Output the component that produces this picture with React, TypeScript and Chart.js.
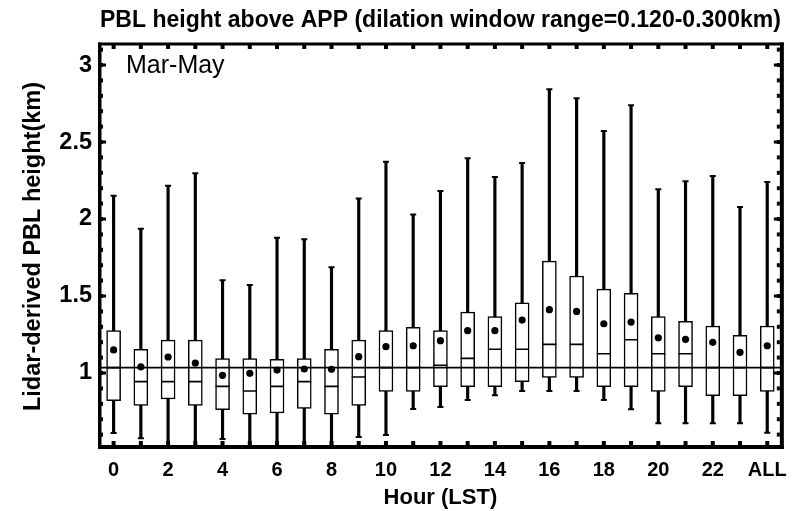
import React, { useEffect, useRef } from 'react';
import { Chart, registerables } from 'chart.js';

Chart.register(...registerables);

const hours: string[] = ['0','1','2','3','4','5','6','7','8','9','10','11','12','13','14','15','16','17','18','19','20','21','22','23','ALL'];
const whiskerLow: number[] = [0.61,0.576,0.45,0.45,0.571,0.45,0.45,0.45,0.45,0.584,0.597,0.766,0.779,0.825,0.855,0.883,0.883,0.883,0.825,0.764,0.673,0.673,0.673,0.673,0.612];
const q1: number[] = [0.82,0.79,0.831,0.79,0.762,0.732,0.74,0.77,0.732,0.79,0.881,0.881,0.911,0.911,0.911,0.944,0.972,0.972,0.911,0.911,0.881,0.911,0.853,0.853,0.881];
const medians: number[] = [1.035,0.944,0.944,0.944,0.913,0.883,0.913,0.944,0.913,0.974,1.035,1.035,1.05,1.095,1.154,1.154,1.186,1.186,1.125,1.216,1.125,1.125,1.035,1.035,1.035];
const q3: number[] = [1.275,1.154,1.214,1.214,1.093,1.093,1.089,1.093,1.154,1.214,1.275,1.297,1.275,1.396,1.366,1.456,1.727,1.63,1.545,1.517,1.366,1.336,1.305,1.245,1.305];
const whiskerHigh: number[] = [2.151,1.937,2.216,2.297,1.602,1.571,1.879,1.868,1.686,2.134,2.372,2.03,2.182,2.394,2.273,2.364,2.842,2.784,2.571,2.738,2.193,2.245,2.279,2.078,2.24];
const means: number[] = [1.15,1.04,1.104,1.065,0.985,0.998,1.019,1.026,1.024,1.106,1.171,1.177,1.21,1.275,1.275,1.344,1.411,1.40,1.32,1.331,1.229,1.219,1.199,1.134,1.177];
const refLine = 1.035;
const yTicks: number[] = [1, 1.5, 2, 2.5, 3];
const yMin = 0.513;
const yMax = 3.13;

const FONT = 'Liberation Sans';

export default function App() {
  const ref = useRef<HTMLCanvasElement>(null);

  useEffect(() => {
    const canvas = ref.current;
    if (!canvas) return;

    const framePlugin = {
      id: 'frame',
      afterDatasetsDraw(chart: any) {
        const { ctx, chartArea, scales } = chart;
        const { left, right, top, bottom } = chartArea;
        const x = scales.x;
        const y = scales.y;
        ctx.save();
        // reference line
        const yr = y.getPixelForValue(refLine);
        ctx.strokeStyle = '#000';
        ctx.lineWidth = 1.6;
        ctx.beginPath();
        ctx.moveTo(left, yr);
        ctx.lineTo(right, yr);
        ctx.stroke();
        // frame
        ctx.fillStyle = '#000';
        ctx.fillRect(left - 2, top - 2.5, right - left + 5, 3); // top
        ctx.fillRect(left - 2, bottom - 3, right - left + 5, 4); // bottom
        ctx.fillRect(left - 2, top - 2.5, 3.5, bottom - top + 3.5); // left
        ctx.fillRect(right - 1, top - 2.5, 4, bottom - top + 3.5); // right
        // x ticks
        for (let i = 0; i < hours.length; i++) {
          const px = x.getPixelForValue(i);
          ctx.fillRect(px - 2, bottom - 7, 4, 5);
          ctx.fillRect(px - 2, top, 4, 4);
        }
        // y major ticks
        for (const v of yTicks) {
          const py = y.getPixelForValue(v);
          ctx.fillRect(left, py - 1.5, 6, 3);
          ctx.fillRect(right - 7, py - 1.5, 7, 3);
        }
        // y minor ticks
        for (let k = Math.ceil(yMin * 10); k <= Math.floor(yMax * 10); k++) {
          const v = k / 10;
          const py = y.getPixelForValue(v);
          ctx.fillRect(left, py - 2, 3, 4);
          ctx.fillRect(right - 4, py - 2, 3, 4);
        }
        // season label
        ctx.font = `25px "${FONT}"`;
        ctx.textAlign = 'left';
        ctx.textBaseline = 'alphabetic';
        ctx.fillText('Mar-May', left + 26, top + 28);
        ctx.restore();
      },
    };

    const chart = new Chart(canvas, {
      type: 'bar',
      data: {
        labels: hours,
        datasets: [
          {
            type: 'line',
            label: 'mean',
            data: means,
            showLine: false,
            pointStyle: 'circle',
            pointRadius: 3.6,
            pointBackgroundColor: '#000',
            pointBorderColor: '#000',
            pointBorderWidth: 0,
            order: 0,
          } as any,
          {
            type: 'line',
            label: 'median',
            data: medians,
            showLine: false,
            pointStyle: 'line',
            pointRadius: 7,
            pointBorderWidth: 1.6,
            pointBorderColor: '#000',
            order: 1,
          } as any,
          {
            type: 'bar',
            label: 'box',
            data: hours.map((_, i) => [q1[i], q3[i]]),
            backgroundColor: '#fff',
            borderColor: '#000',
            borderWidth: 1.5,
            borderSkipped: false,
            barThickness: 14,
            grouped: false,
            order: 2,
          } as any,
          {
            type: 'line',
            label: 'capLow',
            data: whiskerLow,
            showLine: false,
            pointStyle: 'line',
            pointRadius: 3,
            pointBorderWidth: 2,
            pointBorderColor: '#000',
            order: 3,
          } as any,
          {
            type: 'line',
            label: 'capHigh',
            data: whiskerHigh,
            showLine: false,
            pointStyle: 'line',
            pointRadius: 3,
            pointBorderWidth: 2,
            pointBorderColor: '#000',
            order: 3,
          } as any,
          {
            type: 'bar',
            label: 'whisker',
            data: hours.map((_, i) => [whiskerLow[i], whiskerHigh[i]]),
            backgroundColor: '#000',
            borderWidth: 0,
            barThickness: 2.5,
            grouped: false,
            order: 4,
          } as any,
        ],
      },
      options: {
        responsive: false,
        animation: false,
        devicePixelRatio: 1,
        layout: { padding: { left: 0, right: 14, top: 0, bottom: 0 } },
        plugins: {
          legend: { display: false },
          tooltip: { enabled: false },
          title: {
            display: true,
            text: 'PBL height above APP (dilation window range=0.120-0.300km)',
            fullSize: false,
            color: '#000',
            font: { family: FONT, size: 23.5, weight: 'bold' },
            padding: { top: 6.5, bottom: 10.3 },
          },
        },
        scales: {
          x: {
            type: 'category',
            offset: true,
            grid: { display: false, drawTicks: false },
            border: { display: false },
            ticks: {
              autoSkip: false,
              maxRotation: 0,
              minRotation: 0,
              padding: 10,
              color: '#000',
              font: { family: FONT, size: 20, weight: 'bold' },
              callback: (_v: any, i: number) => (i % 2 === 0 || hours[i] === 'ALL' ? hours[i] : ''),
            },
            title: {
              display: true,
              text: 'Hour (LST)',
              color: '#000',
              font: { family: FONT, size: 22, weight: 'bold' },
              padding: { top: 0, bottom: 0 },
            },
            afterFit: (s: any) => { s.height = 63; },
          },
          y: {
            type: 'linear',
            min: yMin,
            max: yMax,
            grid: { display: false, drawTicks: false },
            border: { display: false },
            afterBuildTicks: (s: any) => { s.ticks = yTicks.map((v) => ({ value: v })); },
            ticks: {
              padding: 8,
              color: '#000',
              font: { family: FONT, size: 23.5, weight: 'bold' },
              callback: (v: any) => String(v),
            },
            title: {
              display: true,
              text: 'Lidar-derived PBL height(km)',
              color: '#000',
              font: { family: FONT, size: 23.5, weight: 'bold' },
              padding: { top: 19, bottom: 0 },
            },
            afterFit: (s: any) => { s.width = 100; },
          },
        },
      },
      plugins: [framePlugin],
    } as any);

    return () => chart.destroy();
  }, []);

  return (
    <div style={{ position: 'fixed', left: 0, top: 0, width: 797, height: 511, background: '#fff' }}>
      <canvas ref={ref} width={797} height={511} style={{ display: 'block', width: 797, height: 511 }} />
    </div>
  );
}
